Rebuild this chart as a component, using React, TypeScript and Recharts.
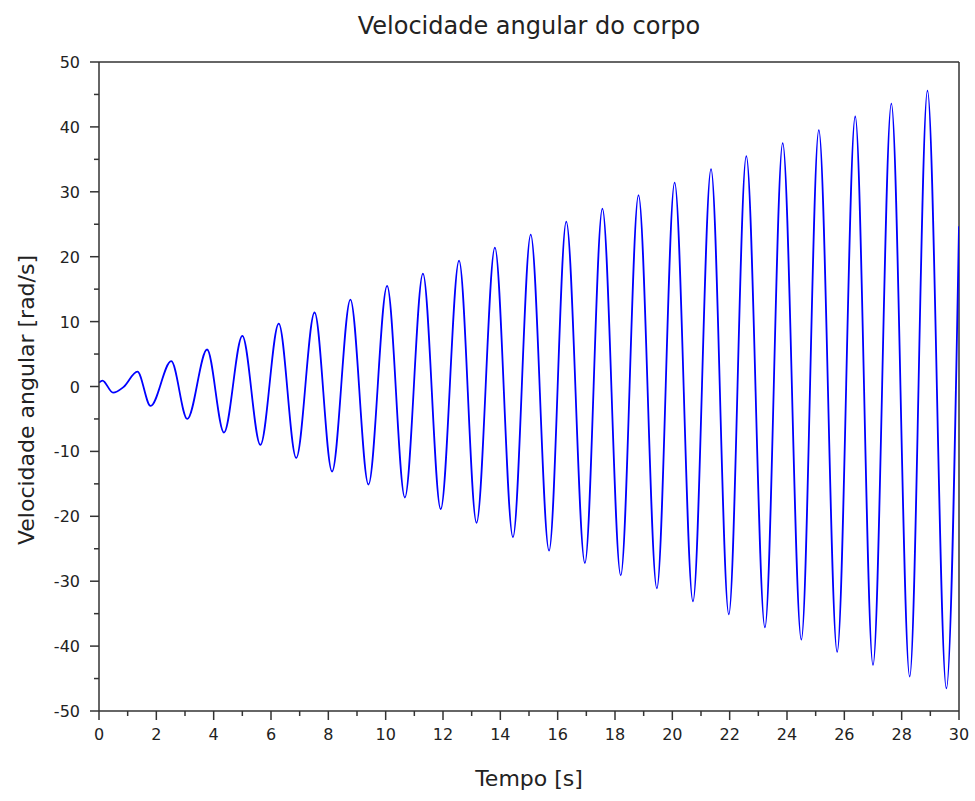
import React from 'react';
import { LineChart, Line, XAxis, YAxis, ReferenceLine } from 'recharts';

// Time instants (s) of the extremes
const TIMES = [
  0, 0.12, 0.49, 0.85, 1.34, 1.8, 2.52, 3.08, 3.77, 4.36, 5.0, 5.63, 6.27, 6.88,
  7.52, 8.13, 8.77, 9.4, 10.05, 10.67, 11.3, 11.92, 12.56, 13.17, 13.81, 14.44,
  15.06, 15.7, 16.3, 16.95, 17.56, 18.2, 18.82, 19.46, 20.08, 20.72, 21.35,
  21.97, 22.58, 23.23, 23.85, 24.5, 25.11, 25.75, 26.38, 27.0, 27.64, 28.28,
  28.9, 29.56, 30,
];
// Angular velocity (rad/s) at those instants
const VALUES = [
  0.6, 0.9, -0.95, -0.1, 2.3, -3.0, 3.9, -5.0, 5.7, -7.1, 7.8, -9.0, 9.7, -11.0,
  11.4, -13.1, 13.4, -15.1, 15.5, -17.1, 17.4, -18.9, 19.4, -21.0, 21.4, -23.2,
  23.4, -25.3, 25.4, -27.2, 27.4, -29.1, 29.5, -31.1, 31.4, -33.1, 33.5, -35.1,
  35.5, -37.1, 37.5, -39.0, 39.5, -40.9, 41.6, -42.9, 43.6, -44.7, 45.6, -46.5,
  24.7,
];

// Major (labelled) and minor tick positions
const X_TICKS = [0, 2, 4, 6, 8, 10, 12, 14, 16, 18, 20, 22, 24, 26, 28, 30];
const X_MINOR = [1, 3, 5, 7, 9, 11, 13, 15, 17, 19, 21, 23, 25, 27, 29];
const Y_TICKS = [-50, -40, -30, -20, -10, 0, 10, 20, 30, 40, 50];
const Y_MINOR = [-45, -35, -25, -15, -5, 5, 15, 25, 35, 45];

const TITLE = 'Velocidade angular do corpo';
const X_LABEL = 'Tempo [s]';
const Y_LABEL = 'Velocidade angular [rad/s]';

const data = TIMES.map((t, i) => ({ t, v: VALUES[i] }));
const X_ALL = [...X_TICKS, ...X_MINOR].sort((a, b) => a - b);
const Y_ALL = [...Y_TICKS, ...Y_MINOR].sort((a, b) => a - b);

const FONT = "'DejaVu Sans', sans-serif";
const AXIS_COLOR = '#333';
const AXIS_W = 1.5;
const axisStyle = { stroke: AXIS_COLOR, strokeWidth: AXIS_W };

function XTick(props: any) {
  const { x, y, payload } = props;
  const major = X_TICKS.includes(payload.value);
  return (
    <g>
      <line x1={x} x2={x} y1={y} y2={y + (major ? 9 : 5)} stroke={AXIS_COLOR} strokeWidth={AXIS_W} />
      {major && (
        <text x={x} y={y + 29} textAnchor="middle" fill="#222" fontSize={16} fontFamily={FONT}>
          {payload.value}
        </text>
      )}
    </g>
  );
}

function YTick(props: any) {
  const { x, y, payload } = props;
  const major = Y_TICKS.includes(payload.value);
  return (
    <g>
      <line x1={x} x2={x - (major ? 9 : 5)} y1={y} y2={y} stroke={AXIS_COLOR} strokeWidth={AXIS_W} />
      {major && (
        <text x={x - 19} y={y + 6} textAnchor="end" fill="#222" fontSize={16} fontFamily={FONT}>
          {payload.value}
        </text>
      )}
    </g>
  );
}

export default function App() {
  return (
    <div style={{ position: 'absolute', left: 0, top: 0, width: 975, height: 801, background: '#fff' }}>
      <LineChart
        width={975}
        height={801}
        data={data}
        margin={{ top: 62, right: 16, bottom: 60, left: 39 }}
      >
        <XAxis
          dataKey="t"
          type="number"
          domain={[0, 30]}
          ticks={X_ALL}
          interval={0}
          height={30}
          tickSize={0}
          tickMargin={0}
          tick={<XTick />}
          tickLine={false}
          axisLine={axisStyle}
          allowDataOverflow
        />
        <YAxis
          type="number"
          domain={[-50, 50]}
          ticks={Y_ALL}
          interval={0}
          width={60}
          tickSize={0}
          tickMargin={0}
          tick={<YTick />}
          tickLine={false}
          axisLine={axisStyle}
          allowDataOverflow
        />
        <ReferenceLine y={50} stroke={AXIS_COLOR} strokeWidth={AXIS_W} ifOverflow="visible" />
        <ReferenceLine x={30} stroke={AXIS_COLOR} strokeWidth={AXIS_W} ifOverflow="visible" />
        <Line
          dataKey="v"
          type="monotone"
          stroke="#0000ff"
          strokeWidth={1.8}
          dot={false}
          isAnimationActive={false}
        />
      </LineChart>
      <div
        style={{
          position: 'absolute', left: 529, top: 26, transform: 'translate(-50%, -50%)',
          fontFamily: FONT, fontSize: 24, color: '#222', whiteSpace: 'nowrap', lineHeight: 1,
        }}
      >
        {TITLE}
      </div>
      <div
        style={{
          position: 'absolute', left: 529, top: 779, transform: 'translate(-50%, -50%)',
          fontFamily: FONT, fontSize: 22, color: '#222', whiteSpace: 'nowrap', lineHeight: 1,
        }}
      >
        {X_LABEL}
      </div>
      <div
        style={{
          position: 'absolute', left: 27, top: 400, transform: 'translate(-50%, -50%) rotate(-90deg)',
          fontFamily: FONT, fontSize: 22, color: '#222', whiteSpace: 'nowrap', lineHeight: 1,
        }}
      >
        {Y_LABEL}
      </div>
    </div>
  );
}
